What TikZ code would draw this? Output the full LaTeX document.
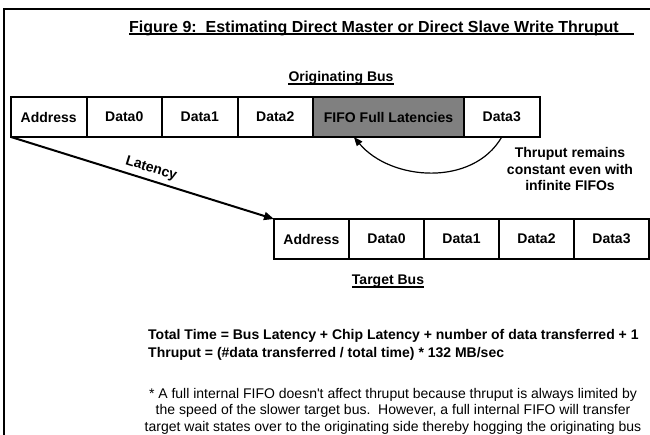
\documentclass[tikz,border=0pt]{standalone}
\usepackage{fontspec}
\setmainfont{Liberation Sans}
\usetikzlibrary{positioning,arrows.meta}

\tikzset{
  slot/.style={draw, line width=2pt, minimum width=75.5pt, minimum height=40pt,
    inner sep=0pt, outer sep=0pt, font=\fontsize{14}{16}\selectfont\bfseries},
  fullslot/.style={slot, minimum width=151pt, fill=gray},
  tslot/.style={slot, minimum width=75pt},
  caption/.style={inner sep=0pt, font=\fontsize{14}{16.5}\selectfont\bfseries},
  uline/.style={line width=1.2pt},
  latarrow/.style={line width=2pt, -{Triangle[length=10pt,width=8pt]}},
  backarrow/.style={line width=1.2pt, -{Triangle[length=9pt,width=7pt]}},
}

\begin{document}
\begin{tikzpicture}[x=1pt,y=-1pt]
\clip (0,0) rectangle (650,435);
\useasboundingbox (0,0) rectangle (650,435);
\draw[line width=2.5pt] (4,445) -- (4,9) -- (660,9);

\node[caption, font=\fontsize{16}{18}\selectfont\bfseries, anchor=base west] (title) at (129,32.5)
  {Figure 9:\ \ Estimating Direct Master or Direct Slave Write Thruput};
\draw[uline] ([yshift=-1.5pt]title.base west) -- ([yshift=-1.5pt,xshift=15pt]title.base east);

\node[caption, anchor=base] (origbus) at (341,82) {Originating Bus};
\draw[uline] ([yshift=-2pt]origbus.base west) -- ([yshift=-2pt]origbus.base east);

\node[slot] (oaddr) at (48.75,117) {Address};
\node[slot, right=0pt of oaddr] (od0) {Data0};
\node[slot, right=0pt of od0] (od1) {Data1};
\node[slot, right=0pt of od1] (od2) {Data2};
\node[fullslot, right=0pt of od2] (fifo) {FIFO Full Latencies};
\node[slot, right=0pt of fifo] (od3) {Data3};

\node[tslot] (taddr) at (311.5,239) {Address};
\node[tslot, right=0pt of taddr] (td0) {Data0};
\node[tslot, right=0pt of td0] (td1) {Data1};
\node[tslot, right=0pt of td1] (td2) {Data2};
\node[tslot, right=0pt of td2] (td3) {Data3};

\node[caption, anchor=base] (tgtbus) at (388,285) {Target Bus};
\draw[uline] ([yshift=-2pt]tgtbus.base west) -- ([yshift=-2pt]tgtbus.base east);

\draw[latarrow] (oaddr.south west) -- node[caption, sloped, above=4pt, pos=0.52] (lat) {Latency} (taddr.north west);

\draw[backarrow] (od3.south) to[out=-120, in=-50] (fifo.-150);
\node[caption, align=center] (note) at (570,169) {Thruput remains\\constant even with\\infinite FIFOs};

\node[caption, anchor=base west] (ttime) at (148,339)
  {Total Time = Bus Latency + Chip Latency + number of data transferred + 1};
\node[caption, anchor=base west] (tput) at (148,357)
  {Thruput = (\#data transferred / total time) * 132 MB/sec};

\node[inner sep=0pt, align=center, font=\fontsize{14}{16.5}\selectfont] (foot) at (393,411)
  {* A full internal FIFO doesn\textquotesingle t affect thruput because thruput is always limited by\\
   the speed of the slower target bus.\ \ However, a full internal FIFO will transfer\\
   target wait states over to the originating side thereby hogging the originating bus};
\end{tikzpicture}
\end{document}
